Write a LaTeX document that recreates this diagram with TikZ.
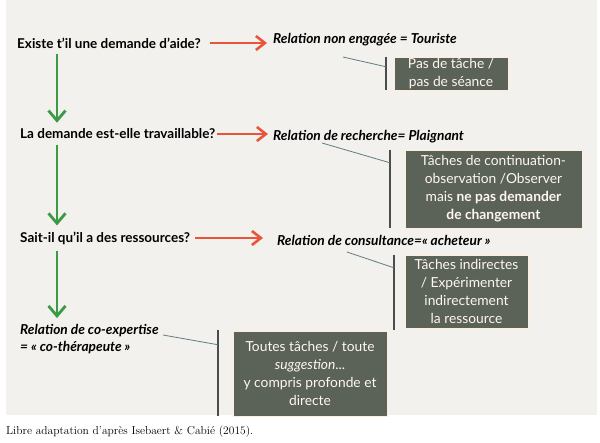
\documentclass[tikz,border=0pt]{standalone}
\usepackage{fontspec}
\setsansfont{Lato}
\usetikzlibrary{arrows.meta}
\definecolor{fond}{HTML}{F2F1EE}
\definecolor{ardoise}{HTML}{5B6358}
\definecolor{rougeo}{HTML}{E8553A}
\definecolor{vertf}{HTML}{3A9A45}
\definecolor{trait}{HTML}{5E7D84}
\begin{document}
\begin{tikzpicture}[x=1pt,y=-1pt,
  q/.style={anchor=west,inner sep=0pt,font=\sffamily\bfseries\fontsize{13.5}{16}\selectfont},
  rel/.style={anchor=west,inner sep=0pt,font=\sffamily\bfseries\itshape\fontsize{13.7}{17}\selectfont},
  tache/.style={fill=ardoise,draw=white!85!orange,line width=0.6pt,text=white!94!orange,align=center,inner sep=0pt,font=\sffamily\fontsize{13.8}{18}\selectfont},
  barre/.style={draw=black!70,line width=1.6pt},
  lien/.style={draw=trait,line width=0.8pt},
  rouge/.style={draw=rougeo,line width=2.6pt,-{Straight Barb[length=9pt,width=14pt,line width=2.6pt]}},
  vert/.style={draw=vertf,line width=2.8pt,-{Straight Barb[length=10pt,width=17pt,line width=2.8pt]}}]
  \useasboundingbox (0,0) rectangle (600,442);
  \fill[fond] (6,0) rectangle (597,415);
  % questions down the left side
  \node[q] (q1) at (17,43) {Existe t'il une demande d'aide?};
  \node[q] (q2) at (20,134) {La demande est-elle travaillable?};
  \node[q] (q3) at (20,238) {Sait-il qu'il a des ressources?};
  \node[rel,align=left] (q4) at (20,339) {Relation de co-expertise\\= « co-thérapeute »};
  % relations on the right
  \node[rel] (r1) at (273,40) {Relation non engagée = Touriste};
  \node[rel] (r2) at (273,137) {Relation de recherche= Plaignant};
  \node[rel] (r3) at (277,240) {Relation de consultance=« acheteur »};
  % task boxes
  \node[tache,minimum width=114,minimum height=33] (b1) at (451,73.5) {Pas de tâche /\\pas de séance};
  \node[tache,minimum width=177,minimum height=78] (b2) at (493.5,189) {Tâches de continuation-\\observation /Observer\\mais \textbf{ne pas demander}\\\textbf{de changement}};
  \node[tache,minimum width=123,minimum height=73] (b3) at (466.5,291.5) {Tâches indirectes\\/ Expérimenter\\indirectement\\la ressource};
  \node[tache,minimum width=154,minimum height=85] (b4) at (310,373.5) {Toutes tâches / toute\\\textit{suggestion}...\\y compris profonde et\\directe};
  % bars and links
  \coordinate (gx) at (57,0);
  \coordinate (c1) at (343,57);
  \coordinate (c2) at (322,143);
  \coordinate (c3) at (347,252);
  \coordinate (c4) at (163,335);
  \draw[barre] ([xshift=-8pt]b1.north west) -- ([xshift=-8pt]b1.south west);
  \draw[barre] ([xshift=-15pt]b2.north west) -- ([xshift=-15pt]b2.south west);
  \draw[barre] ([xshift=-11pt]b3.north west) -- ([xshift=-11pt,yshift=-2pt]b3.north west |- b3.south);
  \draw[barre] ([xshift=-15pt,yshift=1pt]b4.north west) -- ([xshift=-15pt]b4.south west);
  \draw[lien] (c1) -- ([xshift=-8pt,yshift=-10pt]b1.north west);
  \draw[lien] (c2) -- ([xshift=-15pt,yshift=-13pt]b2.north west);
  \draw[lien] (c3) -- ([xshift=-11pt,yshift=-13pt]b3.north west);
  \draw[lien] (c4) -- ([xshift=-15pt,yshift=-14pt]b4.north west);
  % arrows
  \draw[rouge] ([xshift=9pt]q1.east) -- ([xshift=-6pt]q1.east -| r1.west);
  \draw[rouge] ([xshift=2pt]q2.east) -- ([xshift=-5pt]q2.east -| r2.west);
  \draw[rouge] ([xshift=5pt]q3.east) -- ([xshift=-14pt]q3.east -| r3.west);
  \draw[vert] ([yshift=-6pt]q1.south -| gx) -- ([yshift=6pt]q2.north -| gx);
  \draw[vert] ([yshift=-6pt]q2.south -| gx) -- ([yshift=6pt]q3.north -| gx);
  \draw[vert] ([yshift=-6pt]q3.south -| gx) -- ([yshift=6pt]q4.north -| gx);
  % source
  \node[anchor=west,inner sep=0pt,font=\fontsize{11.5}{14}\selectfont] (src) at (6,432) {Libre adaptation d'après Isebaert \& Cabié (2015).};
\end{tikzpicture}
\end{document}
